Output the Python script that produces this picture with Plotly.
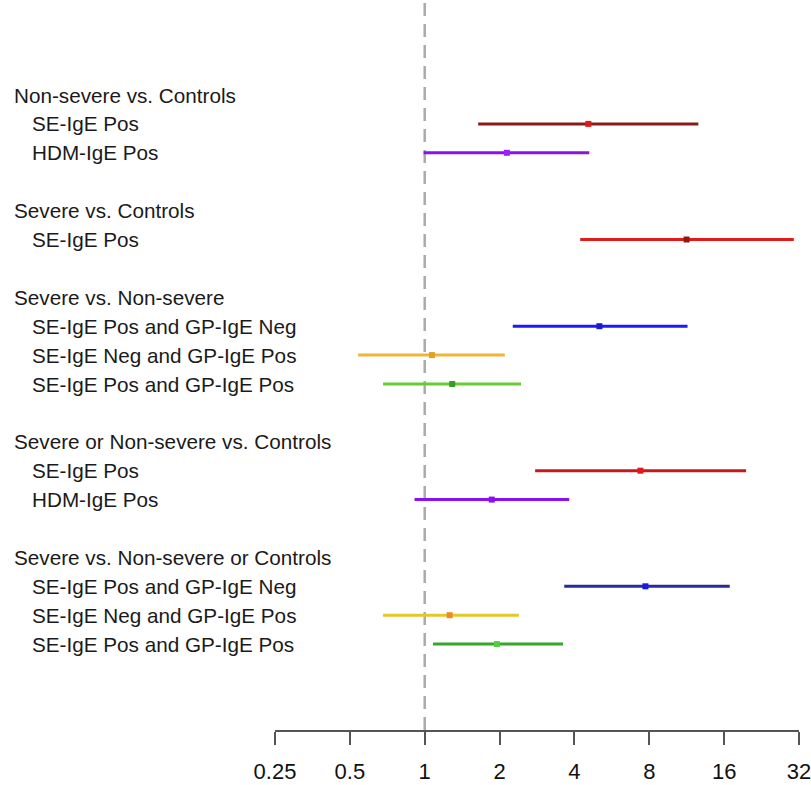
import math
import plotly.graph_objects as go

# ---- data ----
row_labels = [
    "Non-severe vs. Controls", "SE-IgE Pos", "HDM-IgE Pos", "",
    "Severe vs. Controls", "SE-IgE Pos", "",
    "Severe vs. Non-severe", "SE-IgE Pos and GP-IgE Neg", "SE-IgE Neg and GP-IgE Pos", "SE-IgE Pos and GP-IgE Pos", "",
    "Severe or Non-severe vs. Controls", "SE-IgE Pos", "HDM-IgE Pos", "",
    "Severe vs. Non-severe or Controls", "SE-IgE Pos and GP-IgE Neg", "SE-IgE Neg and GP-IgE Pos", "SE-IgE Pos and GP-IgE Pos",
]
is_header = [True, False, False, False,
             True, False, False,
             True, False, False, False, False,
             True, False, False, False,
             True, False, False, False]

# estimates (rows with data only): row index, OR, lower, upper
est_rows = [1, 2, 5, 8, 9, 10, 13, 14, 17, 18, 19]
odds_ratio = [4.55, 2.14, 11.3, 5.04, 1.07, 1.29, 7.37, 1.86, 7.72, 1.26, 1.95]
ci_lower = [1.64, 0.99, 4.22, 2.26, 0.54, 0.68, 2.78, 0.91, 3.64, 0.68, 1.08]
ci_upper = [12.6, 4.59, 30.5, 11.4, 2.10, 2.44, 19.6, 3.81, 16.85, 2.39, 3.60]

tick_values = [0.25, 0.5, 1, 2, 4, 8, 16, 32]
tick_labels = ["0.25", "0.5", "1", "2", "4", "8", "16", "32"]

# ---- styles ----
line_colors = ["#8B1A1A", "#8A10F0", "#E21A1A", "#1A1AF5", "#F0B43A", "#66CC33",
               "#C41A1A", "#8A10F0", "#2A2A9A", "#E6C62A", "#35A82A"]
point_colors = ["#E01A1A", "#9A20FF", "#8B1A1A", "#1A1AD0", "#E0A020", "#3A9A2A",
                "#E01A1A", "#8A10F0", "#1A1AE0", "#F08A20", "#55CC44"]

W, H = 811, 785
L, R, T, B = 275, 12, 0, 55
plot_w = W - L - R
plot_h = H - T - B
row0_px = 95
row_step = 28.9
y_range = [(plot_h - row0_px) / row_step, -row0_px / row_step]

FONT = "Liberation Sans, Arial, sans-serif"

fig = go.Figure()

for i, r in enumerate(est_rows):
    fig.add_trace(go.Scatter(
        x=[ci_lower[i], ci_upper[i]], y=[r, r], mode="lines",
        line=dict(color=line_colors[i], width=3), showlegend=False, hoverinfo="skip"))
    fig.add_trace(go.Scatter(
        x=[odds_ratio[i]], y=[r], mode="markers",
        marker=dict(color=point_colors[i], size=6, symbol="square"),
        showlegend=False))

# reference line at OR = 1
fig.add_shape(type="line", xref="x", yref="paper", x0=1, x1=1, y0=0, y1=1,
              line=dict(color="#AAAAAA", width=2.5, dash="13px,8px"), layer="below")

annotations = []
for idx, (lab, hdr) in enumerate(zip(row_labels, is_header)):
    if not lab:
        continue
    px = 12 if hdr else 30
    annotations.append(dict(
        text=lab, xref="paper", yref="y", x=(px - L) / plot_w, y=idx,
        xanchor="left", yanchor="middle", showarrow=False,
        font=dict(family=FONT, size=20.7, color="#1a1a1a")))

fig.update_layout(
    width=W, height=H,
    margin=dict(l=L, r=R, t=T, b=B, pad=0),
    paper_bgcolor="white", plot_bgcolor="white",
    annotations=annotations,
    xaxis=dict(type="log", range=[math.log10(0.25), math.log10(32)],
               tickvals=tick_values, ticktext=tick_labels,
               showline=True, linecolor="#555555", linewidth=1.5,
               ticks="outside", ticklen=13, tickwidth=1.5, tickcolor="#555555",
               showgrid=False, zeroline=False, ticklabelstandoff=8,
               ticklabeloverflow="allow", automargin=False,
               tickfont=dict(family=FONT, size=22, color="#111111")),
    yaxis=dict(range=y_range, visible=False, showgrid=False, zeroline=False),
)

fig.write_html("out.html")
